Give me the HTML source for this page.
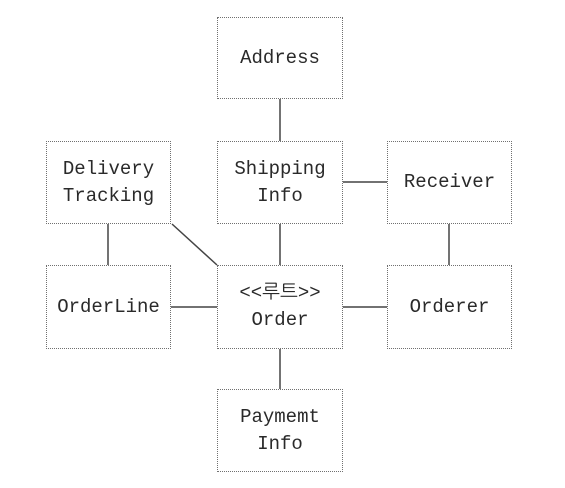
<!DOCTYPE html>
<html><head><style>
body{margin:0;background:#fff;width:565px;height:488px;position:relative;overflow:hidden;font-family:"Liberation Mono","NanumGothic",monospace;}
.b{position:absolute;width:125px;height:82px;border:1.5px dotted #707070;box-sizing:border-box;display:flex;align-items:center;justify-content:center;text-align:center;font-size:19px;line-height:27px;color:#2a2a2a;background:#fff;}
svg{position:absolute;left:0;top:0}
</style></head><body>
<svg width="565" height="488"><g stroke="#444" stroke-width="1.5">
<line x1="280" y1="98" x2="280" y2="141"/>
<line x1="280" y1="224" x2="280" y2="265"/>
<line x1="280" y1="349" x2="280" y2="389"/>
<line x1="343" y1="182" x2="387" y2="182"/>
<line x1="343" y1="307" x2="387" y2="307"/>
<line x1="170" y1="307" x2="217" y2="307"/>
<line x1="108" y1="224" x2="108" y2="265"/>
<line x1="449" y1="224" x2="449" y2="265"/>
<line x1="172" y1="224" x2="217" y2="265"/>
</g></svg>
<div class="b" style="left:217px;top:17px;width:126px">Address</div>
<div class="b" style="left:217px;top:141px;width:126px;height:83px">Shipping<br>Info</div>
<div class="b" style="left:46px;top:141px;height:83px">Delivery<br>Tracking</div>
<div class="b" style="left:387px;top:141px;height:83px">Receiver</div>
<div class="b" style="left:46px;top:265px;height:84px">OrderLine</div>
<div class="b" style="left:217px;top:265px;width:126px;height:84px">&lt;&lt;루트&gt;&gt;<br>Order</div>
<div class="b" style="left:387px;top:265px;height:84px">Orderer</div>
<div class="b" style="left:217px;top:389px;width:126px;height:83px">Paymemt<br>Info</div>
</body></html>
